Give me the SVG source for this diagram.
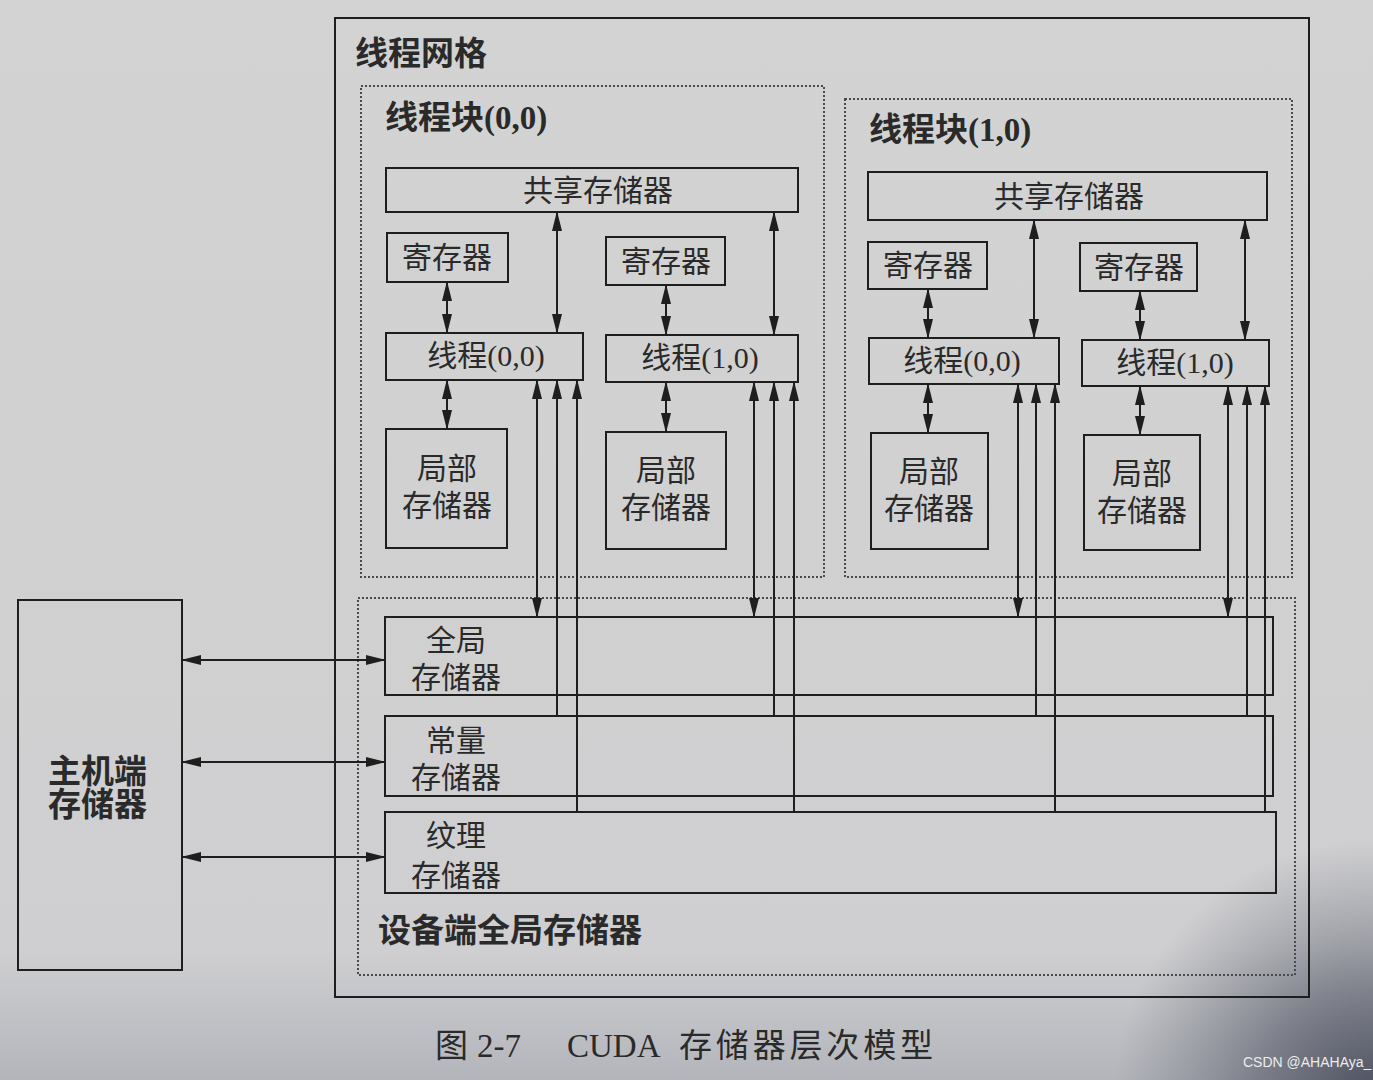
<svg xmlns="http://www.w3.org/2000/svg" width="1373" height="1080" viewBox="0 0 1373 1080">
<defs>
<linearGradient id="bg" x1="0" y1="0" x2="0" y2="1">
<stop offset="0" stop-color="#d3d3d3"/>
<stop offset="0.88" stop-color="#cfcfd1"/>
<stop offset="1" stop-color="#b3b5bb"/>
</linearGradient>
<radialGradient id="dark" cx="1373" cy="1100" r="260" gradientUnits="userSpaceOnUse">
<stop offset="0" stop-color="#454958" stop-opacity="0.95"/>
<stop offset="0.45" stop-color="#565a68" stop-opacity="0.6"/>
<stop offset="1" stop-color="#6a6e7a" stop-opacity="0"/>
</radialGradient>
<marker id="ah" viewBox="0 0 20 10" markerWidth="20" markerHeight="10" refX="19" refY="5" orient="auto-start-reverse" markerUnits="userSpaceOnUse">
<path d="M0,0 L20,5 L0,10 Z" fill="#1e1e1e"/>
</marker>
<style>
.box{fill:none;stroke:#1e1e1e;stroke-width:2}
.dot{fill:none;stroke:#4a4a4a;stroke-width:2;stroke-dasharray:2 2}
.ln{fill:none;stroke:#1e1e1e;stroke-width:2}
.bi{marker-start:url(#ah);marker-end:url(#ah)}
.up{marker-end:url(#ah)}
.t{font-family:"Liberation Serif","Noto Sans CJK SC",serif;font-size:30px;fill:#2a2a2a;text-anchor:middle}
.h{font-family:"Liberation Serif","Noto Sans CJK SC",sans-serif;font-weight:bold;font-size:33px;fill:#2a2a2a}
.cap{font-family:"Liberation Serif","Noto Sans CJK SC",serif;font-size:33px;fill:#2a2a2a}
.wm{font-family:"Liberation Sans",sans-serif;font-size:14px;fill:#ececec}
</style>
</defs>
<rect x="0" y="0" width="1373" height="1080" fill="url(#bg)"/>
<rect x="0" y="0" width="1373" height="1080" fill="url(#dark)"/>

<g id="grid">
<rect class="box" x="335" y="18" width="974" height="979"/>
<text class="h" x="355" y="65">线程网格</text>
</g>

<g id="block00">
<rect class="dot" x="361" y="86" width="463" height="491"/>
<text class="h" x="385" y="129">线程块(0,0)</text>
</g>
<g id="b0-shared"><rect class="box" x="386" y="168" width="412" height="44"/><text class="t" x="598" y="201">共享存储器</text></g>
<g id="b0-reg0"><rect class="box" x="387" y="233" width="121" height="49"/><text class="t" x="447" y="268">寄存器</text></g>
<g id="b0-reg1"><rect class="box" x="606" y="237" width="119" height="48"/><text class="t" x="666" y="272">寄存器</text></g>
<g id="b0-thread00"><rect class="box" x="386" y="333" width="197" height="47"/><text class="t" x="486" y="366">线程(0,0)</text></g>
<g id="b0-thread10"><rect class="box" x="606" y="335" width="192" height="47"/><text class="t" x="700" y="368">线程(1,0)</text></g>
<g id="b0-local0"><rect class="box" x="386" y="429" width="121" height="119"/><text class="t" x="447" y="479">局部</text><text class="t" x="447" y="516">存储器</text></g>
<g id="b0-local1"><rect class="box" x="606" y="432" width="120" height="117"/><text class="t" x="666" y="481">局部</text><text class="t" x="666" y="518">存储器</text></g>

<g id="block10">
<rect class="dot" x="845" y="99" width="447" height="478"/>
<text class="h" x="869" y="141">线程块(1,0)</text>
</g>
<g id="b1-shared"><rect class="box" x="868" y="172" width="399" height="48"/><text class="t" x="1069" y="207">共享存储器</text></g>
<g id="b1-reg0"><rect class="box" x="868" y="242" width="119" height="47"/><text class="t" x="928" y="276">寄存器</text></g>
<g id="b1-reg1"><rect class="box" x="1080" y="243" width="117" height="48"/><text class="t" x="1139" y="278">寄存器</text></g>
<g id="b1-thread00"><rect class="box" x="869" y="338" width="190" height="46"/><text class="t" x="962" y="371">线程(0,0)</text></g>
<g id="b1-thread10"><rect class="box" x="1082" y="340" width="187" height="46"/><text class="t" x="1175" y="373">线程(1,0)</text></g>
<g id="b1-local0"><rect class="box" x="871" y="433" width="117" height="116"/><text class="t" x="929" y="482">局部</text><text class="t" x="929" y="519">存储器</text></g>
<g id="b1-local1"><rect class="box" x="1084" y="435" width="116" height="115"/><text class="t" x="1142" y="484">局部</text><text class="t" x="1142" y="521">存储器</text></g>

<g id="device">
<rect class="dot" x="358" y="598" width="937" height="377"/>
<text class="h" x="378" y="942">设备端全局存储器</text>
</g>
<g id="global"><rect class="box" x="385" y="617" width="888" height="78"/><text class="t" x="456" y="651">全局</text><text class="t" x="456" y="688">存储器</text></g>
<g id="constant"><rect class="box" x="385" y="716" width="888" height="80"/><text class="t" x="456" y="751">常量</text><text class="t" x="456" y="788">存储器</text></g>
<g id="texture"><rect class="box" x="385" y="812" width="891" height="81"/><text class="t" x="456" y="846">纹理</text><text class="t" x="456" y="886">存储器</text></g>

<g id="host">
<rect class="box" x="18" y="600" width="164" height="370"/>
<text class="h" x="48" y="783">主机端</text>
<text class="h" x="48" y="816">存储器</text>
</g>

<g id="connectors">
<line class="ln bi" x1="447" y1="282" x2="447" y2="333"/>
<line class="ln bi" x1="447" y1="380" x2="447" y2="429"/>
<line class="ln bi" x1="557" y1="212" x2="557" y2="333"/>
<line class="ln bi" x1="666" y1="285" x2="666" y2="335"/>
<line class="ln bi" x1="666" y1="382" x2="666" y2="432"/>
<line class="ln bi" x1="774" y1="212" x2="774" y2="335"/>
<line class="ln bi" x1="537" y1="380" x2="537" y2="617"/>
<line class="ln up" x1="557" y1="716" x2="557" y2="380"/>
<line class="ln up" x1="577" y1="812" x2="577" y2="380"/>
<line class="ln bi" x1="754" y1="382" x2="754" y2="617"/>
<line class="ln up" x1="774" y1="716" x2="774" y2="382"/>
<line class="ln up" x1="794" y1="812" x2="794" y2="382"/>

<line class="ln bi" x1="928" y1="289" x2="928" y2="338"/>
<line class="ln bi" x1="928" y1="384" x2="928" y2="433"/>
<line class="ln bi" x1="1034" y1="220" x2="1034" y2="338"/>
<line class="ln bi" x1="1140" y1="291" x2="1140" y2="340"/>
<line class="ln bi" x1="1140" y1="386" x2="1140" y2="435"/>
<line class="ln bi" x1="1245" y1="220" x2="1245" y2="340"/>
<line class="ln bi" x1="1018" y1="384" x2="1018" y2="617"/>
<line class="ln up" x1="1036" y1="716" x2="1036" y2="384"/>
<line class="ln up" x1="1055" y1="812" x2="1055" y2="384"/>
<line class="ln bi" x1="1228" y1="386" x2="1228" y2="617"/>
<line class="ln up" x1="1247" y1="716" x2="1247" y2="386"/>
<line class="ln up" x1="1265" y1="812" x2="1265" y2="386"/>

<line class="ln bi" x1="182" y1="660" x2="385" y2="660"/>
<line class="ln bi" x1="182" y1="762" x2="385" y2="762"/>
<line class="ln bi" x1="182" y1="857" x2="385" y2="857"/>
</g>

<g id="caption">
<text class="cap" x="435" y="1057">图</text>
<text class="cap" x="477" y="1057">2-7</text>
<text class="cap" x="567" y="1057">CUDA</text>
<text class="cap" x="679" y="1057" textLength="254" lengthAdjust="spacing">存储器层次模型</text>
</g>
<text class="wm" x="1243" y="1067">CSDN @AHAHAya_</text>
</svg>
